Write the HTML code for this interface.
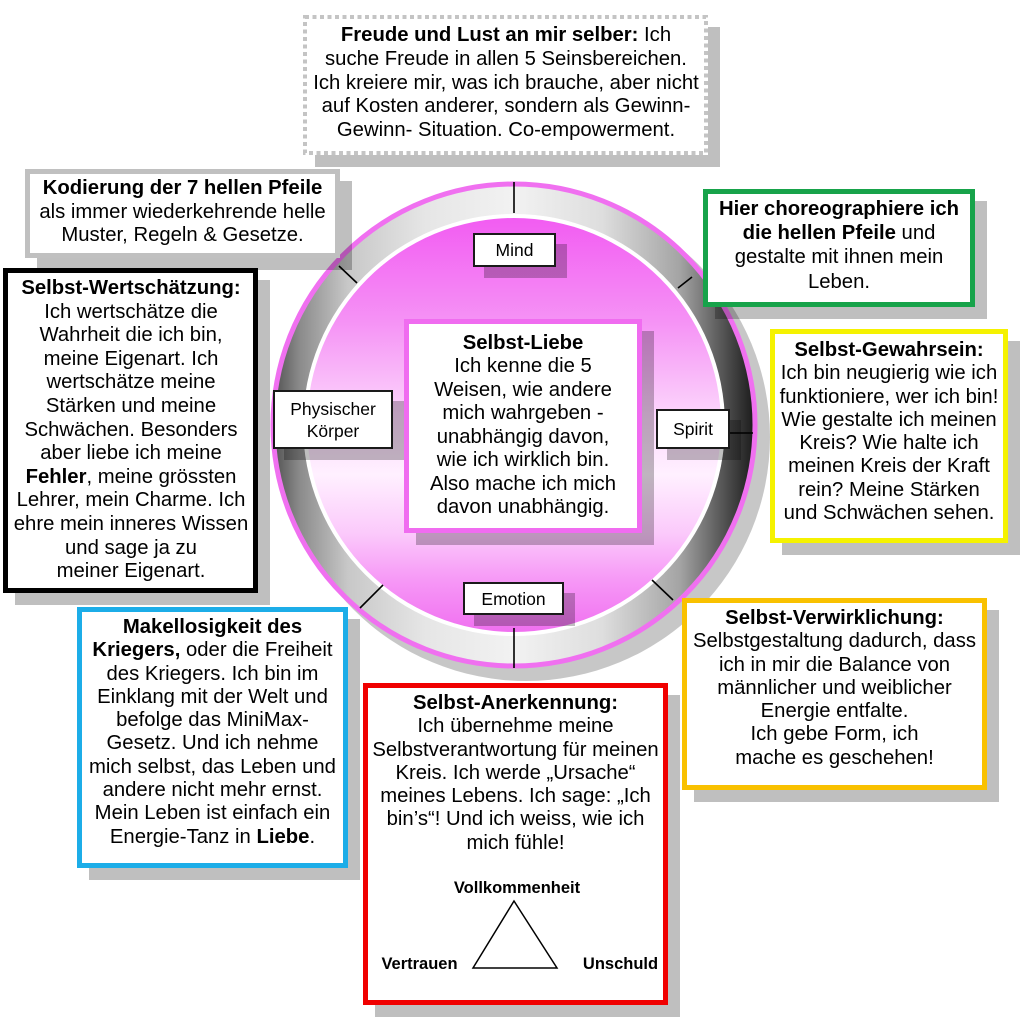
<!DOCTYPE html>
<html>
<head>
<meta charset="utf-8">
<style>
  html,body{margin:0;padding:0;background:#fff;}
  body{width:1020px;height:1023px;position:relative;overflow:hidden;
       font-family:"Liberation Sans",Arial,sans-serif;color:#000;}
  .abs{position:absolute;}
  .sh{position:absolute;background:rgba(0,0,0,0.25);}
  .box{position:absolute;box-sizing:border-box;background:#fff;}
  .txt{position:absolute;width:420px;text-align:center;white-space:nowrap;font-size:20.3px;}
  .lab{position:absolute;box-sizing:border-box;background:#fff;border:2px solid #1a1a1a;
       display:flex;align-items:center;justify-content:center;text-align:center;
       font-size:17.5px;line-height:22px;}
  b{font-weight:bold;}
</style>
</head>
<body>

<!-- circle graphics -->
<svg class="abs" style="left:0;top:0;" width="1020" height="1023" viewBox="0 0 1020 1023">
  <defs>
    <linearGradient id="ring" x1="270" y1="0" x2="758" y2="0" gradientUnits="userSpaceOnUse">
      <stop offset="0" stop-color="#4a4a4a"/>
      <stop offset="0.06" stop-color="#8a8a8a"/>
      <stop offset="0.16" stop-color="#c8c8c8"/>
      <stop offset="0.32" stop-color="#e6e6e6"/>
      <stop offset="0.5" stop-color="#f2f2f2"/>
      <stop offset="0.68" stop-color="#dedede"/>
      <stop offset="0.84" stop-color="#a4a4a4"/>
      <stop offset="0.94" stop-color="#4a4a4a"/>
      <stop offset="1" stop-color="#141414"/>
    </linearGradient>
    <linearGradient id="disk" x1="0" y1="218" x2="0" y2="632" gradientUnits="userSpaceOnUse">
      <stop offset="0" stop-color="#f25cf2"/>
      <stop offset="0.25" stop-color="#f592f5"/>
      <stop offset="0.48" stop-color="#fcd6fc"/>
      <stop offset="0.62" stop-color="#fff0ff"/>
      <stop offset="0.76" stop-color="#fbcafb"/>
      <stop offset="0.88" stop-color="#f696f6"/>
      <stop offset="1" stop-color="#f070f0"/>
    </linearGradient>
  </defs>
  <!-- circle shadow -->
  <circle cx="526" cy="437" r="244" fill="rgba(0,0,0,0.22)"/>
  <!-- gray ring -->
  <circle cx="514" cy="425" r="242" fill="url(#ring)"/>
  <!-- outer pink -->
  <circle cx="514" cy="425" r="241" fill="none" stroke="#f070f0" stroke-width="5"/>
  <!-- white thin ring -->
  <circle cx="514" cy="425" r="211" fill="#ffffff"/>
  <!-- disk -->
  <circle cx="514" cy="425" r="207" fill="url(#disk)"/>
  <!-- ticks -->
  <g stroke="#000" stroke-width="1.6">
    <line x1="514" y1="182" x2="514" y2="213"/>
    <line x1="514" y1="628" x2="514" y2="668"/>
    <line x1="339" y1="266" x2="357" y2="283"/>
    <line x1="678" y1="288" x2="692" y2="277"/>
    <line x1="360" y1="608" x2="383" y2="585"/>
    <line x1="652" y1="580" x2="673" y2="600"/>
    <line x1="730" y1="433" x2="753" y2="433"/>
  </g>
</svg>

<!-- shadows -->
<div class="sh" style="left:315px;top:27px;width:405px;height:140px;"></div>
<div class="sh" style="left:37px;top:181px;width:315px;height:89px;"></div>
<div class="sh" style="left:15px;top:280px;width:255px;height:325px;"></div>
<div class="sh" style="left:715px;top:201px;width:272px;height:118px;"></div>
<div class="sh" style="left:782px;top:341px;width:238px;height:214px;"></div>
<div class="sh" style="left:694px;top:610px;width:305px;height:192px;"></div>
<div class="sh" style="left:89px;top:619px;width:271px;height:261px;"></div>
<div class="sh" style="left:375px;top:695px;width:305px;height:322px;"></div>
<div class="sh" style="left:416px;top:331px;width:238px;height:214px;"></div>
<div class="sh" style="left:484px;top:244px;width:83px;height:34px;"></div>
<div class="sh" style="left:284px;top:401px;width:120px;height:59px;"></div>
<div class="sh" style="left:667px;top:420px;width:74px;height:40px;"></div>
<div class="sh" style="left:474px;top:593px;width:101px;height:33px;"></div>

<!-- boxes -->
<div class="box" style="left:303px;top:15px;width:405px;height:140px;"></div>
<svg class="abs" style="left:303px;top:15px;" width="405" height="140">
  <rect x="2" y="2" width="401" height="136" fill="none" stroke="#c4c4c4" stroke-width="4" stroke-dasharray="4 3.5"/>
</svg>
<div class="box" style="left:25px;top:169px;width:315px;height:89px;border:5px solid #c0c0c0;"></div>
<div class="box" style="left:3px;top:268px;width:255px;height:325px;border:5px solid #000;"></div>
<div class="box" style="left:703px;top:189px;width:272px;height:118px;border:5px solid #17a34a;"></div>
<div class="box" style="left:770px;top:329px;width:238px;height:214px;border:5px solid #f5f200;"></div>
<div class="box" style="left:682px;top:598px;width:305px;height:192px;border:5px solid #f9c100;"></div>
<div class="box" style="left:77px;top:607px;width:271px;height:261px;border:5px solid #1cade8;"></div>
<div class="box" style="left:363px;top:683px;width:305px;height:322px;border:5px solid #f00000;"></div>
<div class="box" style="left:404px;top:319px;width:238px;height:214px;border:5px solid #f06cf0;"></div>

<!-- small labels -->
<div class="lab" style="left:473px;top:233px;width:83px;height:34px;">Mind</div>
<div class="lab" style="left:273px;top:390px;width:120px;height:59px;">Physischer<br>Körper</div>
<div class="lab" style="left:656px;top:409px;width:74px;height:40px;">Spirit</div>
<div class="lab" style="left:463px;top:582px;width:101px;height:33px;">Emotion</div>

<!-- texts -->
<div class="txt" style="left:296px;top:24px;line-height:23.75px;">
<b>Freude und Lust an mir selber:</b> Ich<br>suche Freude in allen 5 Seinsbereichen.<br>Ich kreiere mir, was ich brauche, aber nicht<br>auf Kosten anderer, sondern als Gewinn-<br>Gewinn- Situation. Co-empowerment.
</div>

<div class="txt" style="left:-27.5px;top:177px;line-height:23.5px;">
<b>Kodierung der 7 hellen Pfeile</b><br>als immer wiederkehrende helle<br>Muster, Regeln &amp; Gesetze.
</div>

<div class="txt" style="left:-79px;top:277px;line-height:23.6px;">
<b>Selbst-Wertschätzung:</b><br>Ich wertschätze die<br>Wahrheit die ich bin,<br>meine Eigenart. Ich<br>wertschätze meine<br>Stärken und meine<br>Schwächen. Besonders<br>aber liebe ich meine<br><b>Fehler</b>, meine grössten<br>Lehrer, mein Charme. Ich<br>ehre mein inneres Wissen<br>und sage ja zu<br>meiner Eigenart.
</div>

<div class="txt" style="left:629px;top:197px;line-height:24.2px;">
<b>Hier choreographiere ich</b><br><b>die hellen Pfeile</b> und<br>gestalte mit ihnen mein<br>Leben.
</div>

<div class="txt" style="left:679px;top:339px;line-height:23.3px;">
<b>Selbst-Gewahrsein:</b><br>Ich bin neugierig wie ich<br>funktioniere, wer ich bin!<br>Wie gestalte ich meinen<br>Kreis? Wie halte ich<br>meinen Kreis der Kraft<br>rein? Meine Stärken<br>und Schwächen sehen.
</div>

<div class="txt" style="left:624.5px;top:607px;line-height:23.3px;">
<b>Selbst-Verwirklichung:</b><br>Selbstgestaltung dadurch, dass<br>ich in mir die Balance von<br>männlicher und weiblicher<br>Energie entfalte.<br>Ich gebe Form, ich<br>mache es geschehen!
</div>

<div class="txt" style="left:2.5px;top:616px;line-height:23.3px;">
<b>Makellosigkeit des</b><br><b>Kriegers,</b> oder die Freiheit<br>des Kriegers. Ich bin im<br>Einklang mit der Welt und<br>befolge das MiniMax-<br>Gesetz. Und ich nehme<br>mich selbst, das Leben und<br>andere nicht mehr ernst.<br>Mein Leben ist einfach ein<br>Energie-Tanz in <b>Liebe</b>.
</div>

<div class="txt" style="left:305.5px;top:692px;line-height:23.3px;">
<b>Selbst-Anerkennung:</b><br>Ich übernehme meine<br>Selbstverantwortung für meinen<br>Kreis. Ich werde „Ursache“<br>meines Lebens. Ich sage: „Ich<br>bin’s“! Und ich weiss, wie ich<br>mich fühle!
</div>

<div class="txt" style="left:313px;top:332px;line-height:23.45px;">
<b>Selbst-Liebe</b><br>Ich kenne die 5<br>Weisen, wie andere<br>mich wahrgeben -<br>unabhängig davon,<br>wie ich wirklich bin.<br>Also mache ich mich<br>davon unabhängig.
</div>

<!-- triangle -->
<svg class="abs" style="left:0;top:0;" width="1020" height="1023" viewBox="0 0 1020 1023">
  <polygon points="514,901 473,968 557,968" fill="none" stroke="#000" stroke-width="1.5"/>
  <g font-family="Liberation Sans, Arial, sans-serif" font-weight="bold" font-size="16.5" text-anchor="middle" fill="#000">
    <text x="517" y="893">Vollkommenheit</text>
    <text x="419.5" y="969">Vertrauen</text>
    <text x="620.5" y="969">Unschuld</text>
  </g>
</svg>

</body>
</html>
